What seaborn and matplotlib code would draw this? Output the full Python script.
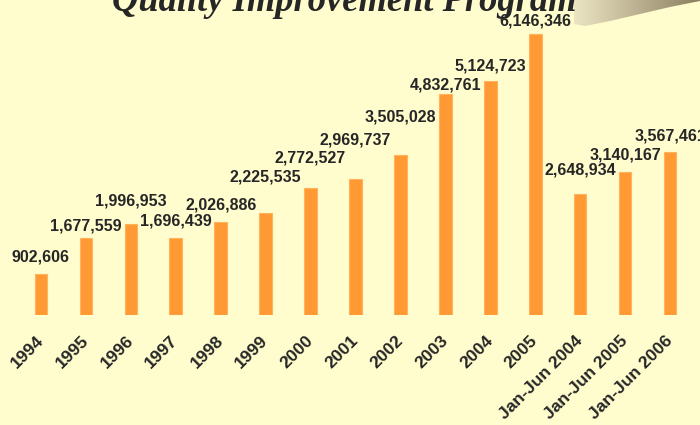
import matplotlib
matplotlib.use("Agg")
import numpy as np
import seaborn as sns
from matplotlib import pyplot as plt
from matplotlib.colors import LinearSegmentedColormap
from matplotlib.patches import Polygon

# Data
periods = ["1994", "1995", "1996", "1997", "1998", "1999", "2000", "2001",
           "2002", "2003", "2004", "2005",
           "Jan-Jun 2004", "Jan-Jun 2005", "Jan-Jun 2006"]
counts = [902606, 1677559, 1996953, 1696439, 2026886, 2225535, 2772527,
          2969737, 3505028, 4832761, 5124723, 6146346,
          2648934, 3140167, 3567461]
title = "Quality Improvement Program"

# how far (px) each value label sits above its bar, as in the original
label_lift = [17, 12, 23, 17, 17, 36, 30, 39, 38, 9, 15, 13, 24, 17, 16]

bg = "#FFFCCD"
bar_color = "#FF9933"

sns.set_style("white")
plt.rcParams["font.family"] = ["Liberation Sans", "DejaVu Sans"]

fig = plt.figure(figsize=(7, 4.25), dpi=100)
fig.patch.set_facecolor(bg)

# decorative swoosh in the top right corner
deco = fig.add_axes([0, 0, 1, 1], zorder=0)
deco.set_xlim(0, 700)
deco.set_ylim(425, 0)
deco.axis("off")
grad = LinearSegmentedColormap.from_list("swoosh", ["#ECE5C4", "#8C7F60"])
img = deco.imshow(np.linspace(0, 1, 256)[None, :], cmap=grad, aspect="auto",
                  extent=[574, 700, 30, 0])
shape = Polygon([(574, -5), (574, 24), (585, 26), (610, 21), (640, 14),
                 (670, 7), (700, 1), (700, -5)], closed=True,
                transform=deco.transData, facecolor="none", edgecolor="none")
deco.add_patch(shape)
img.set_clip_path(shape)

# title, clipped at the top edge as in the original
fig.text(112 / 700, 1 - 11 / 425, title, family=["Liberation Serif"],
         style="italic", weight="bold", size=26.3, ha="left", va="baseline",
         zorder=2)

ax = fig.add_axes([18.5 / 700, 110 / 425, 674 / 700, 315 / 425], zorder=1)
ax.set_facecolor("none")
sns.barplot(x=periods, y=counts, color=bar_color, saturation=1, width=0.28,
            edgecolor="#FFB35C", linewidth=0.8, ax=ax)

for i, (v, lift) in enumerate(zip(counts, label_lift)):
    ax.annotate(f"{v:,}", (i, v), xytext=(0, lift), textcoords="offset pixels",
                ha="center", va="center", fontsize=11.5, fontweight="bold",
                annotation_clip=False)

ax.set_ylim(0, 6.9e6)
ax.set_xlim(-0.5, len(periods) - 0.5)
ax.set_yticks([])
ax.set_xticks(range(len(periods)))
ax.set_xticklabels(periods, rotation=45, ha="right", va="center",
                   rotation_mode="anchor", fontweight="bold", fontsize=12.6)
ax.tick_params(axis="x", length=0, pad=17)
ax.set_xlabel("")
ax.set_ylabel("")
sns.despine(ax=ax, left=True, bottom=True)

fig.savefig("out.png", dpi=100, facecolor=bg)
